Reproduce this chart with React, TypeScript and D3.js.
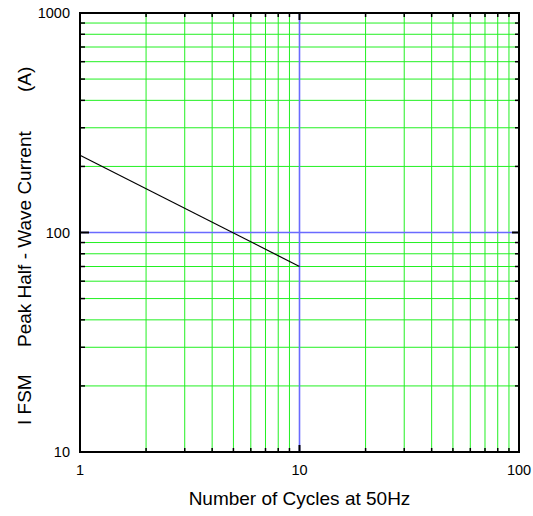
import React from "react";
import * as d3 from "d3";

const xDomain = [1, 100];
const yDomain = [10, 1000];
const xTickLabels = [1, 10, 100];
const yTickLabels = [10, 100, 1000];
const cycles = [1, 10];
const currentA = [225, 70];

const W = 533;
const H = 516;
const left = 80;
const right = 519;
const top = 13;
const bottom = 452;

export default function App() {
  const x = d3.scaleLog().domain(xDomain).range([left, right]);
  const y = d3.scaleLog().domain(yDomain).range([bottom, top]);

  const xMinor: number[] = [];
  for (const d of [1, 10]) for (let k = 2; k <= 9; k++) xMinor.push(d * k);
  const yMinor: number[] = [];
  for (const d of [10, 100]) for (let k = 2; k <= 9; k++) yMinor.push(d * k);
  const xMajorInner = [10];
  const yMajorInner = [100];

  const line = d3
    .line<number>()
    .x((_, i) => x(cycles[i]))
    .y((v) => y(v));

  const green = "#22f022";
  const blue = "#6a6aff";
  const font = "Liberation Sans, Arial, sans-serif";

  return (
    <svg
      width={W}
      height={H}
      style={{ position: "absolute", left: 0, top: 0, background: "#fff" }}
    >
      {xMinor.map((v) => (
        <line key={"gx" + v} x1={x(v)} x2={x(v)} y1={top} y2={bottom} stroke={green} strokeWidth={1} />
      ))}
      {yMinor.map((v) => (
        <line key={"gy" + v} x1={left} x2={right} y1={y(v)} y2={y(v)} stroke={green} strokeWidth={1} />
      ))}
      {xMajorInner.map((v) => (
        <line key={"bx" + v} x1={x(v)} x2={x(v)} y1={top} y2={bottom} stroke={blue} strokeWidth={1.6} />
      ))}
      {yMajorInner.map((v) => (
        <line key={"by" + v} x1={left} x2={right} y1={y(v)} y2={y(v)} stroke={blue} strokeWidth={1.6} />
      ))}
      <path d={line(currentA) || ""} fill="none" stroke="#000" strokeWidth={1.2} />
      {xMinor.map((v) => (
        <g key={"tx" + v}>
          <line x1={x(v)} x2={x(v)} y1={bottom} y2={bottom - 4} stroke="#000" strokeWidth={1.5} />
          <line x1={x(v)} x2={x(v)} y1={top} y2={top + 4} stroke="#000" strokeWidth={1.5} />
        </g>
      ))}
      {yMinor.map((v) => (
        <g key={"ty" + v}>
          <line x1={left} x2={left + 5} y1={y(v)} y2={y(v)} stroke="#000" strokeWidth={1.5} />
          <line x1={right} x2={right - 4} y1={y(v)} y2={y(v)} stroke="#000" strokeWidth={1.5} />
        </g>
      ))}
      {xTickLabels.map((v) => (
        <g key={"mx" + v}>
          <line x1={x(v)} x2={x(v)} y1={bottom} y2={bottom - 7} stroke="#000" strokeWidth={2} />
          <line x1={x(v)} x2={x(v)} y1={top} y2={top + 7} stroke="#000" strokeWidth={2} />
        </g>
      ))}
      {yTickLabels.map((v) => (
        <g key={"my" + v}>
          <line x1={left} x2={left + 9} y1={y(v)} y2={y(v)} stroke="#000" strokeWidth={2} />
          <line x1={right} x2={right - 7} y1={y(v)} y2={y(v)} stroke="#000" strokeWidth={2} />
        </g>
      ))}
      <rect x={left} y={top} width={right - left} height={bottom - top} fill="none" stroke="#000" strokeWidth={2} />
      {yTickLabels.map((v) => (
        <text key={"ly" + v} x={70} y={y(v)} dy="0.36em" textAnchor="end" fontFamily={font} fontSize={14.5} fill="#000">
          {v}
        </text>
      ))}
      {xTickLabels.map((v) => (
        <text key={"lx" + v} x={x(v)} y={475} textAnchor="middle" fontFamily={font} fontSize={14.5} fill="#000">
          {v}
        </text>
      ))}
      <text x={(left + right) / 2} y={505} textAnchor="middle" fontFamily={font} fontSize={19} fill="#000">
        Number of Cycles at 50Hz
      </text>
      <g transform="translate(31,0) rotate(-90)" fontFamily={font} fontSize={19} fill="#000">
        <text x={-425} y={0}>I FSM</text>
        <text x={-347} y={0}>Peak Half - Wave Current</text>
        <text x={-92} y={0}>(A)</text>
      </g>
    </svg>
  );
}
